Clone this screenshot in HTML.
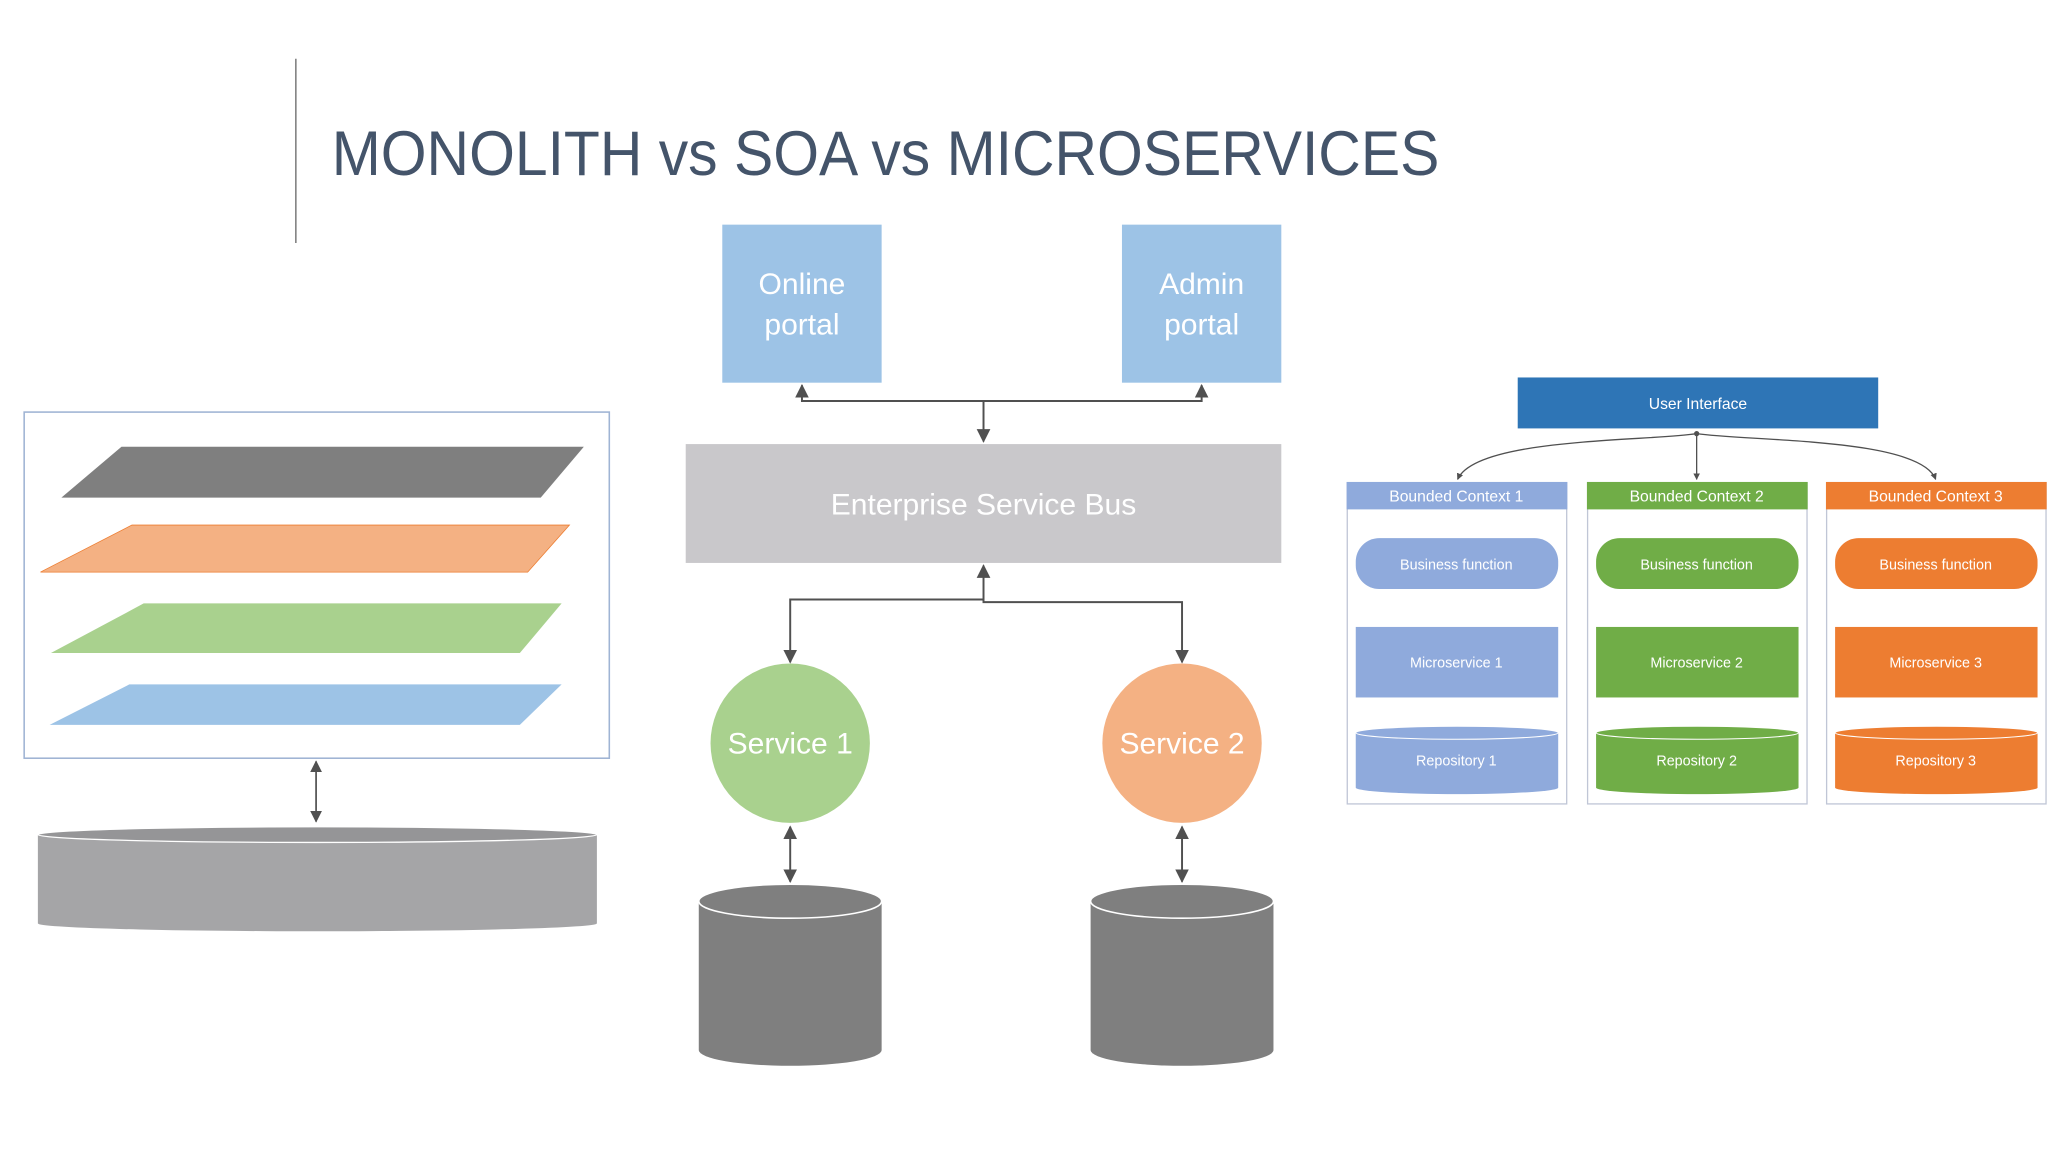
<!DOCTYPE html>
<html><head><meta charset="utf-8"><style>
html,body{margin:0;padding:0;background:#fff;width:2048px;height:1152px;overflow:hidden}
svg{display:block}
text{font-family:"Liberation Sans",sans-serif}
</style></head><body>
<svg width="2048" height="1152" viewBox="0 0 1568 882" xmlns="http://www.w3.org/2000/svg">
<defs>
<marker id="a" viewBox="0 0 10 10" refX="9" refY="5" markerWidth="7" markerHeight="7" orient="auto-start-reverse"><path d="M0,0 L10,5 L0,10 z" fill="#505050"/></marker>
<marker id="s" viewBox="0 0 10 10" refX="9" refY="5" markerWidth="5" markerHeight="5" orient="auto-start-reverse"><path d="M0,0 L10,5 L0,10 z" fill="#505050"/></marker>
</defs>
<rect width="1568" height="882" fill="#fff"/>
<line x1="226.5" y1="45" x2="226.5" y2="186" stroke="#7f7f7f" stroke-width="1.2"/>
<text x="254" y="134" font-size="48" fill="#44546a" textLength="848" lengthAdjust="spacingAndGlyphs">MONOLITH vs SOA vs MICROSERVICES</text>

<!-- Monolith -->
<rect x="18.5" y="315.5" width="448" height="265" fill="#fff" stroke="#9fb4d4" stroke-width="1.2"/>
<polygon points="93,342 447,342 414,381 47,381" fill="#7f7f7f"/>
<polygon points="101,402 436,402 404,438 31,438" fill="#f4b183" stroke="#ed7d31" stroke-width="0.6"/>
<polygon points="110,462 430,462 398,500 39,500" fill="#a9d18e"/>
<polygon points="99,524 430,524 398,555 38,555" fill="#9dc3e6"/>
<line x1="242" y1="583" x2="242" y2="629" stroke="#505050" stroke-width="1.3" marker-start="url(#a)" marker-end="url(#a)"/>
<path d="M29,639 L29,707 A214,6 0 0 0 457,707 L457,639 Z" fill="#a5a5a7"/>
<ellipse cx="243" cy="639" rx="214" ry="6" fill="#959597" stroke="#fff" stroke-width="1"/>

<!-- SOA -->
<rect x="553" y="172" width="122" height="121" fill="#9dc3e6"/>
<rect x="859" y="172" width="122" height="121" fill="#9dc3e6"/>
<text x="614" y="225" font-size="23" fill="#fff" text-anchor="middle">Online</text>
<text x="614" y="256" font-size="23" fill="#fff" text-anchor="middle">portal</text>
<text x="920" y="225" font-size="23" fill="#fff" text-anchor="middle">Admin</text>
<text x="920" y="256" font-size="23" fill="#fff" text-anchor="middle">portal</text>
<path d="M614,295 L614,307 L920,307 L920,295" fill="none" stroke="#505050" stroke-width="1.5" marker-start="url(#a)" marker-end="url(#a)"/>
<line x1="753" y1="307" x2="753" y2="338" stroke="#505050" stroke-width="1.5" marker-end="url(#a)"/>
<rect x="525" y="340" width="456" height="91" fill="#c9c8cb"/>
<text x="753" y="394" font-size="23" fill="#fff" text-anchor="middle">Enterprise Service Bus</text>
<line x1="753" y1="460" x2="753" y2="433" stroke="#505050" stroke-width="1.5" marker-end="url(#a)"/>
<path d="M605,507 L605,459 L753,459 L753,461 L905,461 L905,507" fill="none" stroke="#505050" stroke-width="1.5" marker-start="url(#a)" marker-end="url(#a)"/>
<circle cx="605" cy="569" r="61" fill="#a9d18e"/>
<circle cx="905" cy="569" r="61" fill="#f4b183"/>
<text x="605" y="577" font-size="23" fill="#fff" text-anchor="middle">Service 1</text>
<text x="905" y="577" font-size="23" fill="#fff" text-anchor="middle">Service 2</text>
<line x1="605" y1="633" x2="605" y2="675" stroke="#505050" stroke-width="1.5" marker-start="url(#a)" marker-end="url(#a)"/>
<line x1="905" y1="633" x2="905" y2="675" stroke="#505050" stroke-width="1.5" marker-start="url(#a)" marker-end="url(#a)"/>
<path d="M535,690 L535,804 A70,12 0 0 0 675,804 L675,690 Z" fill="#7f7f7f"/>
<ellipse cx="605" cy="690" rx="70" ry="13" fill="#7f7f7f" stroke="#fff" stroke-width="1.2"/>
<path d="M835,690 L835,804 A70,12 0 0 0 975,804 L975,690 Z" fill="#7f7f7f"/>
<ellipse cx="905" cy="690" rx="70" ry="13" fill="#7f7f7f" stroke="#fff" stroke-width="1.2"/>

<!-- Microservices -->
<rect x="1162" y="289" width="276" height="39" fill="#2e75b6"/>
<text x="1300" y="313" font-size="12" fill="#fff" text-anchor="middle">User Interface</text>
<path d="M1299,332 C1260,338 1130,335 1116,367" fill="none" stroke="#505050" stroke-width="1" marker-end="url(#s)"/>
<path d="M1299,332 C1340,338 1470,335 1482,367" fill="none" stroke="#505050" stroke-width="1" marker-end="url(#s)"/>
<line x1="1299" y1="331" x2="1299" y2="367" stroke="#505050" stroke-width="1" marker-end="url(#s)"/>
<circle cx="1299" cy="332" r="2" fill="#505050"/>

<g>
<rect x="1031.5" y="369.5" width="168" height="246" fill="#fff" stroke="#c0c6d6" stroke-width="1"/>
<rect x="1031" y="369" width="169" height="21" fill="#8faadc"/>
<text x="1115" y="384" font-size="12" fill="#fff" text-anchor="middle">Bounded Context 1</text>
<rect x="1038" y="412" width="155" height="39" rx="18" fill="#8faadc"/>
<text x="1115" y="436" font-size="11" fill="#fff" text-anchor="middle">Business function</text>
<rect x="1038" y="480" width="155" height="54" fill="#8faadc"/>
<text x="1115" y="511" font-size="11" fill="#fff" text-anchor="middle">Microservice 1</text>
<path d="M1038,561 L1038,603 A77.5,5 0 0 0 1193,603 L1193,561 Z" fill="#8faadc"/>
<ellipse cx="1115.5" cy="561" rx="77.5" ry="5" fill="#8faadc" stroke="#fff" stroke-width="0.8"/>
<text x="1115" y="586" font-size="11" fill="#fff" text-anchor="middle">Repository 1</text>
</g>
<g>
<rect x="1215.5" y="369.5" width="168" height="246" fill="#fff" stroke="#c0c6d6" stroke-width="1"/>
<rect x="1215" y="369" width="169" height="21" fill="#70ad47"/>
<text x="1299" y="384" font-size="12" fill="#fff" text-anchor="middle">Bounded Context 2</text>
<rect x="1222" y="412" width="155" height="39" rx="18" fill="#70ad47"/>
<text x="1299" y="436" font-size="11" fill="#fff" text-anchor="middle">Business function</text>
<rect x="1222" y="480" width="155" height="54" fill="#70ad47"/>
<text x="1299" y="511" font-size="11" fill="#fff" text-anchor="middle">Microservice 2</text>
<path d="M1222,561 L1222,603 A77.5,5 0 0 0 1377,603 L1377,561 Z" fill="#70ad47"/>
<ellipse cx="1299.5" cy="561" rx="77.5" ry="5" fill="#70ad47" stroke="#fff" stroke-width="0.8"/>
<text x="1299" y="586" font-size="11" fill="#fff" text-anchor="middle">Repository 2</text>
</g>
<g>
<rect x="1398.5" y="369.5" width="168" height="246" fill="#fff" stroke="#c0c6d6" stroke-width="1"/>
<rect x="1398" y="369" width="169" height="21" fill="#ed7d31"/>
<text x="1482" y="384" font-size="12" fill="#fff" text-anchor="middle">Bounded Context 3</text>
<rect x="1405" y="412" width="155" height="39" rx="18" fill="#ed7d31"/>
<text x="1482" y="436" font-size="11" fill="#fff" text-anchor="middle">Business function</text>
<rect x="1405" y="480" width="155" height="54" fill="#ed7d31"/>
<text x="1482" y="511" font-size="11" fill="#fff" text-anchor="middle">Microservice 3</text>
<path d="M1405,561 L1405,603 A77.5,5 0 0 0 1560,603 L1560,561 Z" fill="#ed7d31"/>
<ellipse cx="1482.5" cy="561" rx="77.5" ry="5" fill="#ed7d31" stroke="#fff" stroke-width="0.8"/>
<text x="1482" y="586" font-size="11" fill="#fff" text-anchor="middle">Repository 3</text>
</g>
</svg>
</body></html>
